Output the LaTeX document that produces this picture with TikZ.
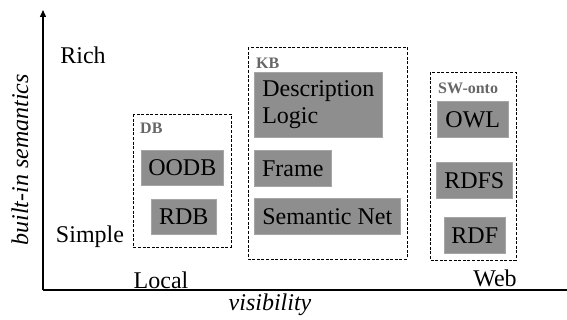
\documentclass[tikz,border=0pt]{standalone}
\usepackage{fontspec}
\setmainfont{Liberation Serif}
\usetikzlibrary{arrows.meta}
\begin{document}
\begin{tikzpicture}[x=1pt,y=-1pt,
  gbox/.style={fill=boxgray, draw=boxgray!80!white, line width=0.6pt, inner sep=0pt, anchor=north west, font=\fontsize{24}{27}\selectfont},
  grp/.style={draw=black, dash pattern=on 3pt off 1.6pt, line width=0.9pt},
  glabel/.style={anchor=west, text=labgray, font=\fontsize{16}{18}\selectfont\bfseries, inner sep=0pt},
  txt/.style={font=\fontsize{24}{27}\selectfont, inner sep=0pt},
  axis/.style={line width=1.3pt}]
\definecolor{boxgray}{HTML}{8E8E8E}
\definecolor{labgray}{HTML}{666666}
\useasboundingbox (0,0) rectangle (567,320);
% axes
\coordinate (O) at (43,290);
\coordinate (ytop) at (43,10);
\coordinate (xend) at (567,290);
\draw[axis, -{Triangle[length=7pt,width=6pt]}] (O) -- (ytop);
\draw[axis] (O) -- (xend);
% axis texts
\node[txt] (rich) at (83,55) {Rich};
\node[txt] (simple) at (90,237) {Simple};
\node[txt] (local) at (161,280) {Local};
\node[txt] (web) at (495,278) {Web};
\node[txt, font=\fontsize{24}{27}\selectfont\itshape] (vis) at (270,305) {visibility};
\node[txt, font=\fontsize{24}{27}\selectfont\itshape, rotate=90] (sem) at (20,160) {built-in semantics};
% DB group
\draw[grp] (133,114) rectangle (231,247);
\node[glabel] (dbl) at (140,128) {DB};
\node[gbox, minimum width=82pt, minimum height=35pt] (oodb) at (141,150) {OODB};
\node[gbox, minimum width=65pt, minimum height=35pt] (rdb) at (151,199) {RDB};
% KB group
\draw[grp] (248,47) rectangle (407,259);
\node[glabel] (kbl) at (256,63) {KB};
\node[gbox, minimum width=128pt, minimum height=65pt, align=left] (dl) at (254,72) {Description\\Logic};
\node[gbox, minimum width=77pt, minimum height=36pt] (frame) at (254,150) {Frame};
\node[gbox, minimum width=146pt, minimum height=36pt] (snet) at (254,198) {Semantic Net};
% SW-onto group
\draw[grp] (430,72) rectangle (516,260);
\node[glabel] (swl) at (438,88) {SW-onto};
\node[gbox, minimum width=71pt, minimum height=36pt] (owl) at (437,101) {OWL};
\node[gbox, minimum width=76pt, minimum height=36pt] (rdfs) at (436,162) {RDFS};
\node[gbox, minimum width=61pt, minimum height=36pt] (rdf) at (444,217) {RDF};
\end{tikzpicture}
\end{document}
